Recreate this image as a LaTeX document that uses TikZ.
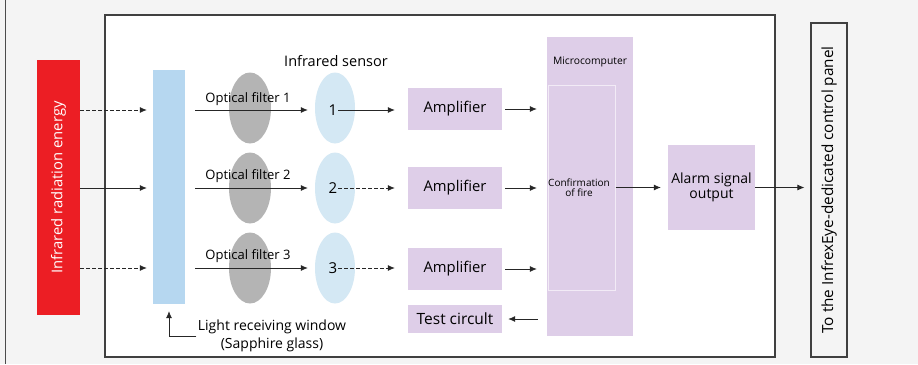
\documentclass[tikz,border=0pt]{standalone}
\usepackage{fontspec}
\setmainfont{Open Sans}
\usetikzlibrary{arrows.meta, positioning, shapes.geometric, calc}
\definecolor{irred}{RGB}{236,30,36}
\definecolor{irlilac}{RGB}{222,206,232}
\definecolor{irwindow}{RGB}{182,215,240}
\definecolor{irlens}{RGB}{212,232,244}
\definecolor{irfilter}{RGB}{180,180,180}
\definecolor{irpaper}{RGB}{244,244,244}
\tikzset{
    irblock/.style={fill=irlilac, minimum width=94pt, minimum height=42pt, inner sep=0pt},
    irfilt/.style={ellipse, fill=irfilter, minimum width=42pt, minimum height=71pt, inner sep=0pt},
    irsens/.style={ellipse, fill=irlens, minimum width=40pt, minimum height=71pt, inner sep=0pt},
    irarrow/.style={-{Latex[length=7pt,width=6pt]}, line width=0.8pt, black!85},
    irdash/.style={irarrow, dash pattern=on 4pt off 2pt},
    irfont/.style={font=\fontsize{#1}{#1}\selectfont}
}

\begin{document}
\begin{tikzpicture}[x=1pt, y=-1pt, every node/.style={irfont=14.5}]
  \useasboundingbox (0,0) rectangle (918,364);
  \fill[irpaper] (0,0) rectangle (918,364);
  \draw[line width=1pt, black!70] (5,0) -- (5,364);

  % frames
  \node[draw=black!75, line width=1.2pt, fill=white, minimum width=670pt, minimum height=342pt]
    (frame) at (440,186) {};
  \node[draw=black!75, line width=1.2pt, minimum width=36pt, minimum height=334pt]
    (panel) at (829,190) {};
  \node[rotate=90, irfont=15.3] at (panel.center) {To the InfrexEye-dedicated control panel};

  % source and window
  \node[fill=irred, minimum width=43pt, minimum height=255pt] (ir) at (58.5,187.5) {};
  \node[rotate=90, text=white, irfont=14.8] at (ir.center) {Infrared radiation energy};
  \node[fill=irwindow, minimum width=32pt, minimum height=234pt] (win) at (169,187) {};

  % filters, sensors, amplifiers
  \node[irsens] (s1) at (335,108) {};
  \node[irsens] (s2) at (335,188) {};
  \node[irsens] (s3) at (335,268) {};
  \node[irfilt] (f1) at (250,108) {};
  \node[irfilt] (f2) at (250,188) {};
  \node[irfilt] (f3) at (250,268) {};
  \node at (336,61) {Infrared sensor};
  \node[irfont=13] at (248,99) {Optical filter 1};
  \node[irfont=13] at (248,176) {Optical filter 2};
  \node[irfont=13] at (248,256) {Optical filter 3};
  \node[irfont=15, inner sep=1pt] (n1) at (333,110) {1};
  \node[irfont=15, inner sep=1pt] (n2) at (333,188) {2};
  \node[irfont=15, inner sep=1pt] (n3) at (333,268) {3};

  \node[irblock, irfont=14.8] (a1) at (455,109) {Amplifier};
  \node[irblock, irfont=14.8] (a2) at (455,188) {Amplifier};
  \node[irblock, irfont=14.8] (a3) at (455,269) {Amplifier};
  \node[irblock, irfont=15.5, minimum height=28pt] (test) at (455,319) {Test circult};

  % microcomputer and output
  \node[fill=irlilac, minimum width=86pt, minimum height=299pt] (mc) at (590,186.5) {};
  \node[irfont=10.3] at (590,62) {Microcomputer};
  \node[draw=white!60!irlilac, line width=1pt, minimum width=67pt, minimum height=205pt]
    (conf) at (581.5,187.5) {};
  \node[irfont=10, align=center, inner sep=0pt] at (579,188) {Confirmation\\of fire};
  \node[irblock, minimum width=87pt, minimum height=85pt, align=center,
    font=\fontsize{14}{15}\selectfont] (alarm) at (711.5,187.5) {Alarm signal\\output};

  \node[align=center, font=\fontsize{14}{18}\selectfont] (lrw) at (272,336)
    {Light receiving window\\(Sapphire glass)};

  % connectors
  \draw[irdash] (ir.east |- n1) -- ([xshift=-6pt]win.west |- n1);
  \draw[irarrow] (ir.east |- n2) -- ([xshift=-6pt]win.west |- n2);
  \draw[irdash] (ir.east |- n3) -- ([xshift=-6pt]win.west |- n3);
  \foreach \i in {1,2,3} {
    \draw[irarrow] ([xshift=10pt]win.east |- n\i) -- ([xshift=-7pt]s\i.west |- n\i);
    \draw[irarrow] ([xshift=3pt]a\i.east) -- ([xshift=-10pt]mc.west |- a\i);
  }
  \draw[irarrow] (n1.east) -- ([xshift=-13pt]a1.west |- n1);
  \draw[irdash] (n2.east) -- ([xshift=-13pt]a2.west |- n2);
  \draw[irdash] (n3.east) -- ([xshift=-13pt]a3.west |- n3);
  \draw[irarrow] ([xshift=-9pt]mc.west |- test) -- ([xshift=6pt]test.east);
  \draw[irarrow] (conf.east |- alarm) -- ([xshift=-7pt]alarm.west);
  \draw[irarrow] (alarm.east) -- ([xshift=-6pt]panel.west |- alarm);
  \draw[irarrow, line width=0.7pt] ([xshift=2pt]lrw.west) -| ([yshift=-7pt]win.south);
\end{tikzpicture}
\end{document}
